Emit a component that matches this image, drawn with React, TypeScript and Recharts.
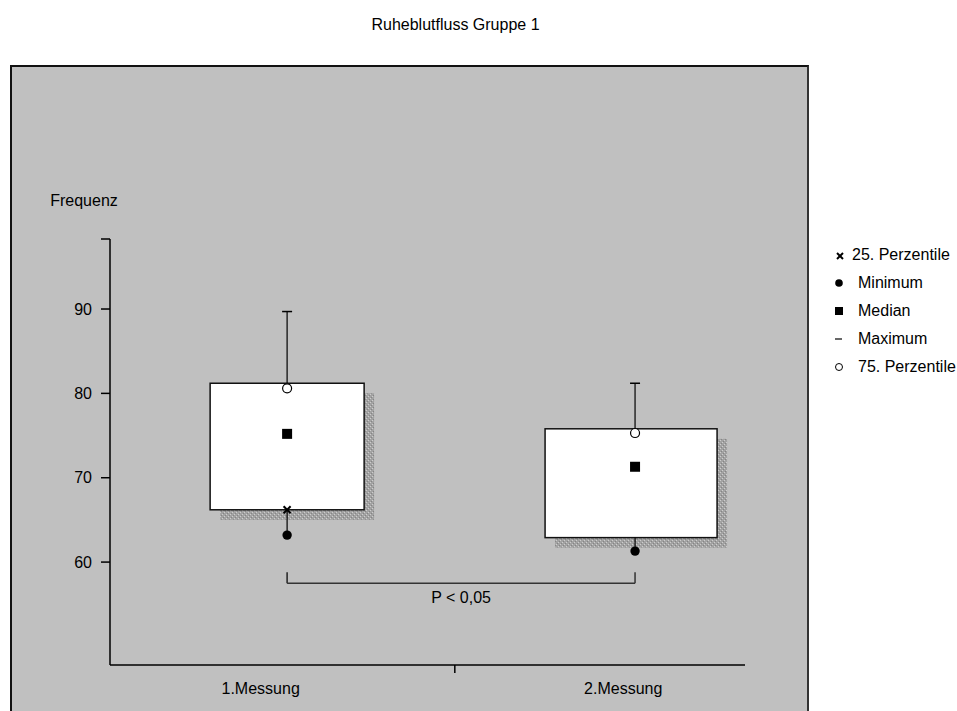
import React from 'react';
import { ComposedChart, Bar, Scatter, ErrorBar, XAxis, YAxis, ReferenceLine, Legend } from 'recharts';

const FONT = '"Liberation Sans", Arial, sans-serif';

const CATEGORIES = ['1.Messung', '2.Messung'];
const POSITIONS = [1, 2];
const BOX_LOW = [66.2, 62.9];
const BOX_HIGH = [81.2, 75.8];
const MINIMUM = [63.2, 61.3];
const PERCENTILE_25 = [66.2, null];
const MEDIAN = [75.2, 71.3];
const PERCENTILE_75 = [80.6, 75.3];
const MAXIMUM = [89.7, 81.2];

const Y_DOMAIN = [47.8, 98.3];
const Y_TICKS = [60, 70, 80, 90, 98.3];
const X_DOMAIN = [0.491, 2.316];
// label, divider, label
const X_TICKS = [0.924, 1.482, 1.966];
const X_TICK_TEXT = [CATEGORIES[0], '', CATEGORIES[1]];

const P_LABEL = 'P < 0,05';
const BRACKET_X = [1, 2];
const BRACKET_Y = 57.5;
const BRACKET_TIP = 58.8;

const LEGEND_ITEMS = [
  { key: 'p25', label: '25. Perzentile' },
  { key: 'min', label: 'Minimum' },
  { key: 'median', label: 'Median' },
  { key: 'max', label: 'Maximum' },
  { key: 'p75', label: '75. Perzentile' },
];

// box drawing tweaks (pixels)
const BOX_WIDTHS = [154, 172];
const BOX_DX = [0, -4];
const SHADOW = 10;
const TICK_LEN = 8;
const TICK_GAP = 10;

const rows = POSITIONS.map((x, i) => ({
  x,
  name: CATEGORIES[i],
  box: [BOX_LOW[i], BOX_HIGH[i]],
  min: MINIMUM[i],
  p25: PERCENTILE_25[i],
  median: MEDIAN[i],
  p75: PERCENTILE_75[i],
  max: MAXIMUM[i],
  lowErr: [0, BOX_LOW[i] - MINIMUM[i]],
  highErr: [0, MAXIMUM[i] - PERCENTILE_75[i]],
}));

const BoxShape = (props: any) => {
  const { x, y, width, height, index = 0 } = props;
  const w = BOX_WIDTHS[index] ?? width;
  const left = x + width / 2 - w / 2 + (BOX_DX[index] ?? 0);
  return (
    <g>
      <rect x={left + SHADOW} y={y + SHADOW} width={w} height={height} fill="url(#shade)" />
      <rect x={left} y={y} width={w} height={height} fill="#fff" stroke="#111" strokeWidth={1.5} />
    </g>
  );
};

const XTick = (props: any) => {
  const { x, y, index } = props;
  const text = X_TICK_TEXT[index];
  if (!text) {
    const top = y - TICK_LEN - TICK_GAP;
    return <line x1={x} y1={top} x2={x} y2={top + TICK_LEN} stroke="#000" strokeWidth={1.5} />;
  }
  return (
    <text x={x} y={y} dy="0.71em" textAnchor="middle" fill="#000" fontSize={16} fontFamily={FONT}>
      {text}
    </text>
  );
};

const CrossMark = ({ cx, cy }: any) => (
  <g stroke="#000" strokeWidth={2}>
    <line x1={cx - 3.5} y1={cy - 3.5} x2={cx + 3.5} y2={cy + 3.5} />
    <line x1={cx - 3.5} y1={cy + 3.5} x2={cx + 3.5} y2={cy - 3.5} />
  </g>
);
const DotMark = ({ cx, cy }: any) => <circle cx={cx} cy={cy} r={4.7} fill="#000" />;
const SquareMark = ({ cx, cy }: any) => <rect x={cx - 5} y={cy - 5} width={10} height={10} fill="#000" />;
const DashMark = ({ cx, cy }: any) => <line x1={cx - 5} y1={cy} x2={cx + 5} y2={cy} stroke="#000" strokeWidth={1.5} />;
const RingMark = ({ cx, cy }: any) => <circle cx={cx} cy={cy} r={4.5} fill="#fff" stroke="#000" strokeWidth={1.2} />;

const LegendSymbol = ({ kind }: { kind: string }) => {
  const cx = 11;
  const cy = 8;
  if (kind === 'p25') {
    return (
      <g stroke="#000" strokeWidth={2}>
        <line x1={cx - 2} y1={cy - 2} x2={cx + 4} y2={cy + 4} />
        <line x1={cx - 2} y1={cy + 4} x2={cx + 4} y2={cy - 2} />
      </g>
    );
  }
  if (kind === 'min') return <circle cx={cx} cy={cy} r={3.8} fill="#000" />;
  if (kind === 'median') return <rect x={cx - 4} y={cy - 4} width={8} height={8} fill="#000" />;
  if (kind === 'max') return <line x1={cx - 4} y1={cy} x2={cx + 3} y2={cy} stroke="#000" strokeWidth={1.2} />;
  return <circle cx={cx} cy={cy} r={3.5} fill="#fff" stroke="#000" strokeWidth={1} />;
};

const LegendContent = () => (
  <div style={{ fontFamily: FONT, fontSize: 16, color: '#000' }}>
    {LEGEND_ITEMS.map((item) => (
      <div key={item.key} style={{ display: 'flex', alignItems: 'center', height: 28, whiteSpace: 'nowrap' }}>
        <svg width={22} height={16} style={{ flex: 'none' }}>
          <LegendSymbol kind={item.key} />
        </svg>
        <span style={{ marginLeft: item.key === 'p25' ? 2 : 8 }}>{item.label}</span>
      </div>
    ))}
  </div>
);

export default function App() {
  const tickStyle = { fill: '#000', fontSize: 16, fontFamily: FONT };
  return (
    <div style={{ position: 'absolute', left: 0, top: 0, width: 957, height: 711, overflow: 'hidden', background: '#fff', fontFamily: FONT }}>
      <div style={{ position: 'absolute', left: 0, top: 16, width: 911, textAlign: 'center', fontSize: 16, color: '#000' }}>
        Ruheblutfluss Gruppe 1
      </div>
      <div
        style={{
          position: 'absolute',
          left: 10,
          top: 65,
          width: 799,
          height: 700,
          boxSizing: 'border-box',
          background: '#c0c0c0',
          borderTop: '2px solid #111',
          borderLeft: '2px solid #111',
          borderRight: '2px solid #333',
        }}
      />
      <div style={{ position: 'absolute', left: 0, top: 0 }}>
        <ComposedChart width={957} height={711} data={rows} margin={{ top: 239, right: 212, bottom: 0, left: 58 }}>
          <defs>
            <pattern id="shade" width={4} height={4} patternUnits="userSpaceOnUse">
              <rect width={4} height={4} fill="#a2a2a2" />
              <rect x={0} y={0} width={1} height={1} fill="#cdcdcd" />
              <rect x={2} y={2} width={1} height={1} fill="#cdcdcd" />
              <rect x={1} y={3} width={1} height={1} fill="#858585" />
              <rect x={3} y={1} width={1} height={1} fill="#858585" />
            </pattern>
          </defs>
          <XAxis
            dataKey="x"
            type="number"
            domain={X_DOMAIN}
            ticks={X_TICKS}
            interval={0}
            allowDataOverflow
            tick={<XTick />}
            tickLine={false}
            tickSize={TICK_LEN}
            tickMargin={TICK_GAP}
            height={46}
            axisLine={{ stroke: '#000', strokeWidth: 1.5 }}
          />
          <YAxis
            type="number"
            domain={Y_DOMAIN}
            ticks={Y_TICKS}
            interval={0}
            allowDataOverflow
            width={52}
            tickSize={9}
            tickMargin={9}
            tick={tickStyle}
            tickFormatter={(v: number) => (v === Y_DOMAIN[1] ? '' : String(v))}
            axisLine={{ stroke: '#000', strokeWidth: 1.5 }}
            tickLine={{ stroke: '#000', strokeWidth: 1.5 }}
            label={{ value: 'Frequenz', position: 'top', offset: 33, fill: '#000', fontSize: 16, fontFamily: FONT }}
          />
          <Bar dataKey="box" barSize={160} shape={<BoxShape />} isAnimationActive={false} />
          <ReferenceLine
            segment={[{ x: BRACKET_X[0], y: BRACKET_TIP }, { x: BRACKET_X[0], y: BRACKET_Y }]}
            stroke="#222"
            strokeWidth={1.5}
          />
          <ReferenceLine
            segment={[{ x: BRACKET_X[0], y: BRACKET_Y }, { x: BRACKET_X[1], y: BRACKET_Y }]}
            stroke="#333"
            strokeWidth={1.5}
            label={{ value: P_LABEL, position: 'bottom', offset: 8, fill: '#000', fontSize: 16, fontFamily: FONT }}
          />
          <ReferenceLine
            segment={[{ x: BRACKET_X[1], y: BRACKET_Y }, { x: BRACKET_X[1], y: BRACKET_TIP }]}
            stroke="#333"
            strokeWidth={1.5}
          />
          <Scatter dataKey="min" shape={<DotMark />} isAnimationActive={false}>
            <ErrorBar dataKey="lowErr" direction="y" width={0} stroke="#000" strokeWidth={1.2} />
          </Scatter>
          <Scatter dataKey="p75" shape={<RingMark />} isAnimationActive={false}>
            <ErrorBar dataKey="highErr" direction="y" width={0} stroke="#000" strokeWidth={1.2} />
          </Scatter>
          <Scatter data={rows.filter((r) => r.p25 != null)} dataKey="p25" shape={<CrossMark />} isAnimationActive={false} />
          <Scatter dataKey="median" shape={<SquareMark />} isAnimationActive={false} />
          <Scatter dataKey="max" shape={<DashMark />} isAnimationActive={false} />
          <Legend
            layout="horizontal"
            verticalAlign="middle"
            align="center"
            width={131}
            wrapperStyle={{ left: 828, top: 241, width: 131 }}
            content={<LegendContent />}
          />
        </ComposedChart>
      </div>
    </div>
  );
}
